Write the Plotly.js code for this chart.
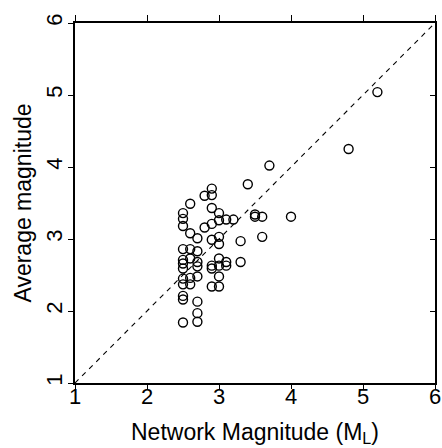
<!DOCTYPE html>
<html>
<head>
<meta charset="utf-8">
<script src="https://cdn.plot.ly/plotly-3.0.1.min.js"></script>
<style>html,body{margin:0;padding:0;background:#fff;}#chart{width:442px;height:448px;}</style>
</head>
<body>
<div id="chart"></div>
<script>
var networkMag = [2.9,2.8,2.9,3.4,2.6,2.5,2.5,2.5,2.9,3.0,3.0,3.1,3.2,2.9,2.8,3.5,3.5,3.6,4.0,2.6,2.7,3.0,2.9,3.0,3.3,3.6,2.5,2.6,2.7,2.5,2.5,2.6,2.7,2.7,2.5,2.9,2.9,3.0,3.0,3.1,3.1,3.3,3.0,2.5,2.5,2.6,2.6,2.7,2.9,3.0,2.5,2.5,2.7,2.7,2.7,2.5,5.2,4.8,3.7];
var averageMag = [3.70,3.60,3.61,3.76,3.49,3.36,3.28,3.18,3.43,3.36,3.26,3.27,3.27,3.21,3.16,3.34,3.31,3.31,3.31,3.08,3.01,3.03,2.99,2.93,2.97,3.03,2.86,2.86,2.83,2.71,2.66,2.73,2.68,2.62,2.59,2.63,2.59,2.73,2.63,2.68,2.63,2.68,2.48,2.45,2.37,2.46,2.37,2.48,2.34,2.34,2.21,2.16,2.13,1.97,1.85,1.84,5.04,4.25,4.02];
var oneToOne = [1, 6];
var tickVals = [1, 2, 3, 4, 5, 6];
var tickText = ['1', '2', '3', '4', '5', '6'];

var fontFam = 'Liberation Sans, Arial, Helvetica, sans-serif';
var traces = [
  {x: oneToOne, y: oneToOne, type: 'scatter', mode: 'lines',
   line: {color: '#000', width: 1.1, dash: '5px,5px'}, hoverinfo: 'skip', showlegend: false},
  {x: networkMag, y: averageMag, type: 'scatter', mode: 'markers',
   marker: {symbol: 'circle-open', size: 9, color: '#000', line: {width: 1.4, color: '#000'}}, showlegend: false},
  {x: oneToOne, y: oneToOne, xaxis: 'x2', yaxis: 'y2', type: 'scatter', mode: 'markers',
   marker: {opacity: 0}, hoverinfo: 'skip', showlegend: false}
];
var axBase = {range: [1, 6], tickvals: tickVals, ticktext: tickText, showgrid: false, zeroline: false,
  showline: true, linecolor: '#000', linewidth: 2, tickcolor: '#000', tickwidth: 1, ticklen: 5,
  tickfont: {family: fontFam, size: 22, color: '#000'}};
var layout = {
  width: 442, height: 448,
  margin: {l: 75, r: 7, t: 23, b: 65},
  paper_bgcolor: '#fff', plot_bgcolor: '#fff',
  font: {family: fontFam, color: '#000'},
  xaxis: Object.assign({}, axBase, {ticks: 'outside', side: 'bottom', ticklen: 4, ticklabelstandoff: -11,
    title: {text: 'Network Magnitude (M<sub>L</sub>)', font: {family: fontFam, size: 23, color: '#000'}, standoff: 15}}),
  yaxis: Object.assign({}, axBase, {ticks: 'outside', side: 'left', tickangle: -90, ticklabelstandoff: -3,
    title: {text: 'Average magnitude', font: {family: fontFam, size: 23, color: '#000'}, standoff: 4}}),
  xaxis2: Object.assign({}, axBase, {overlaying: 'x', side: 'top', ticks: 'outside', ticklen: 6, showticklabels: false}),
  yaxis2: Object.assign({}, axBase, {overlaying: 'y', side: 'right', ticks: 'inside', showticklabels: false})
};
Plotly.newPlot('chart', traces, layout, {displayModeBar: false, staticPlot: true});
</script>
</body>
</html>
